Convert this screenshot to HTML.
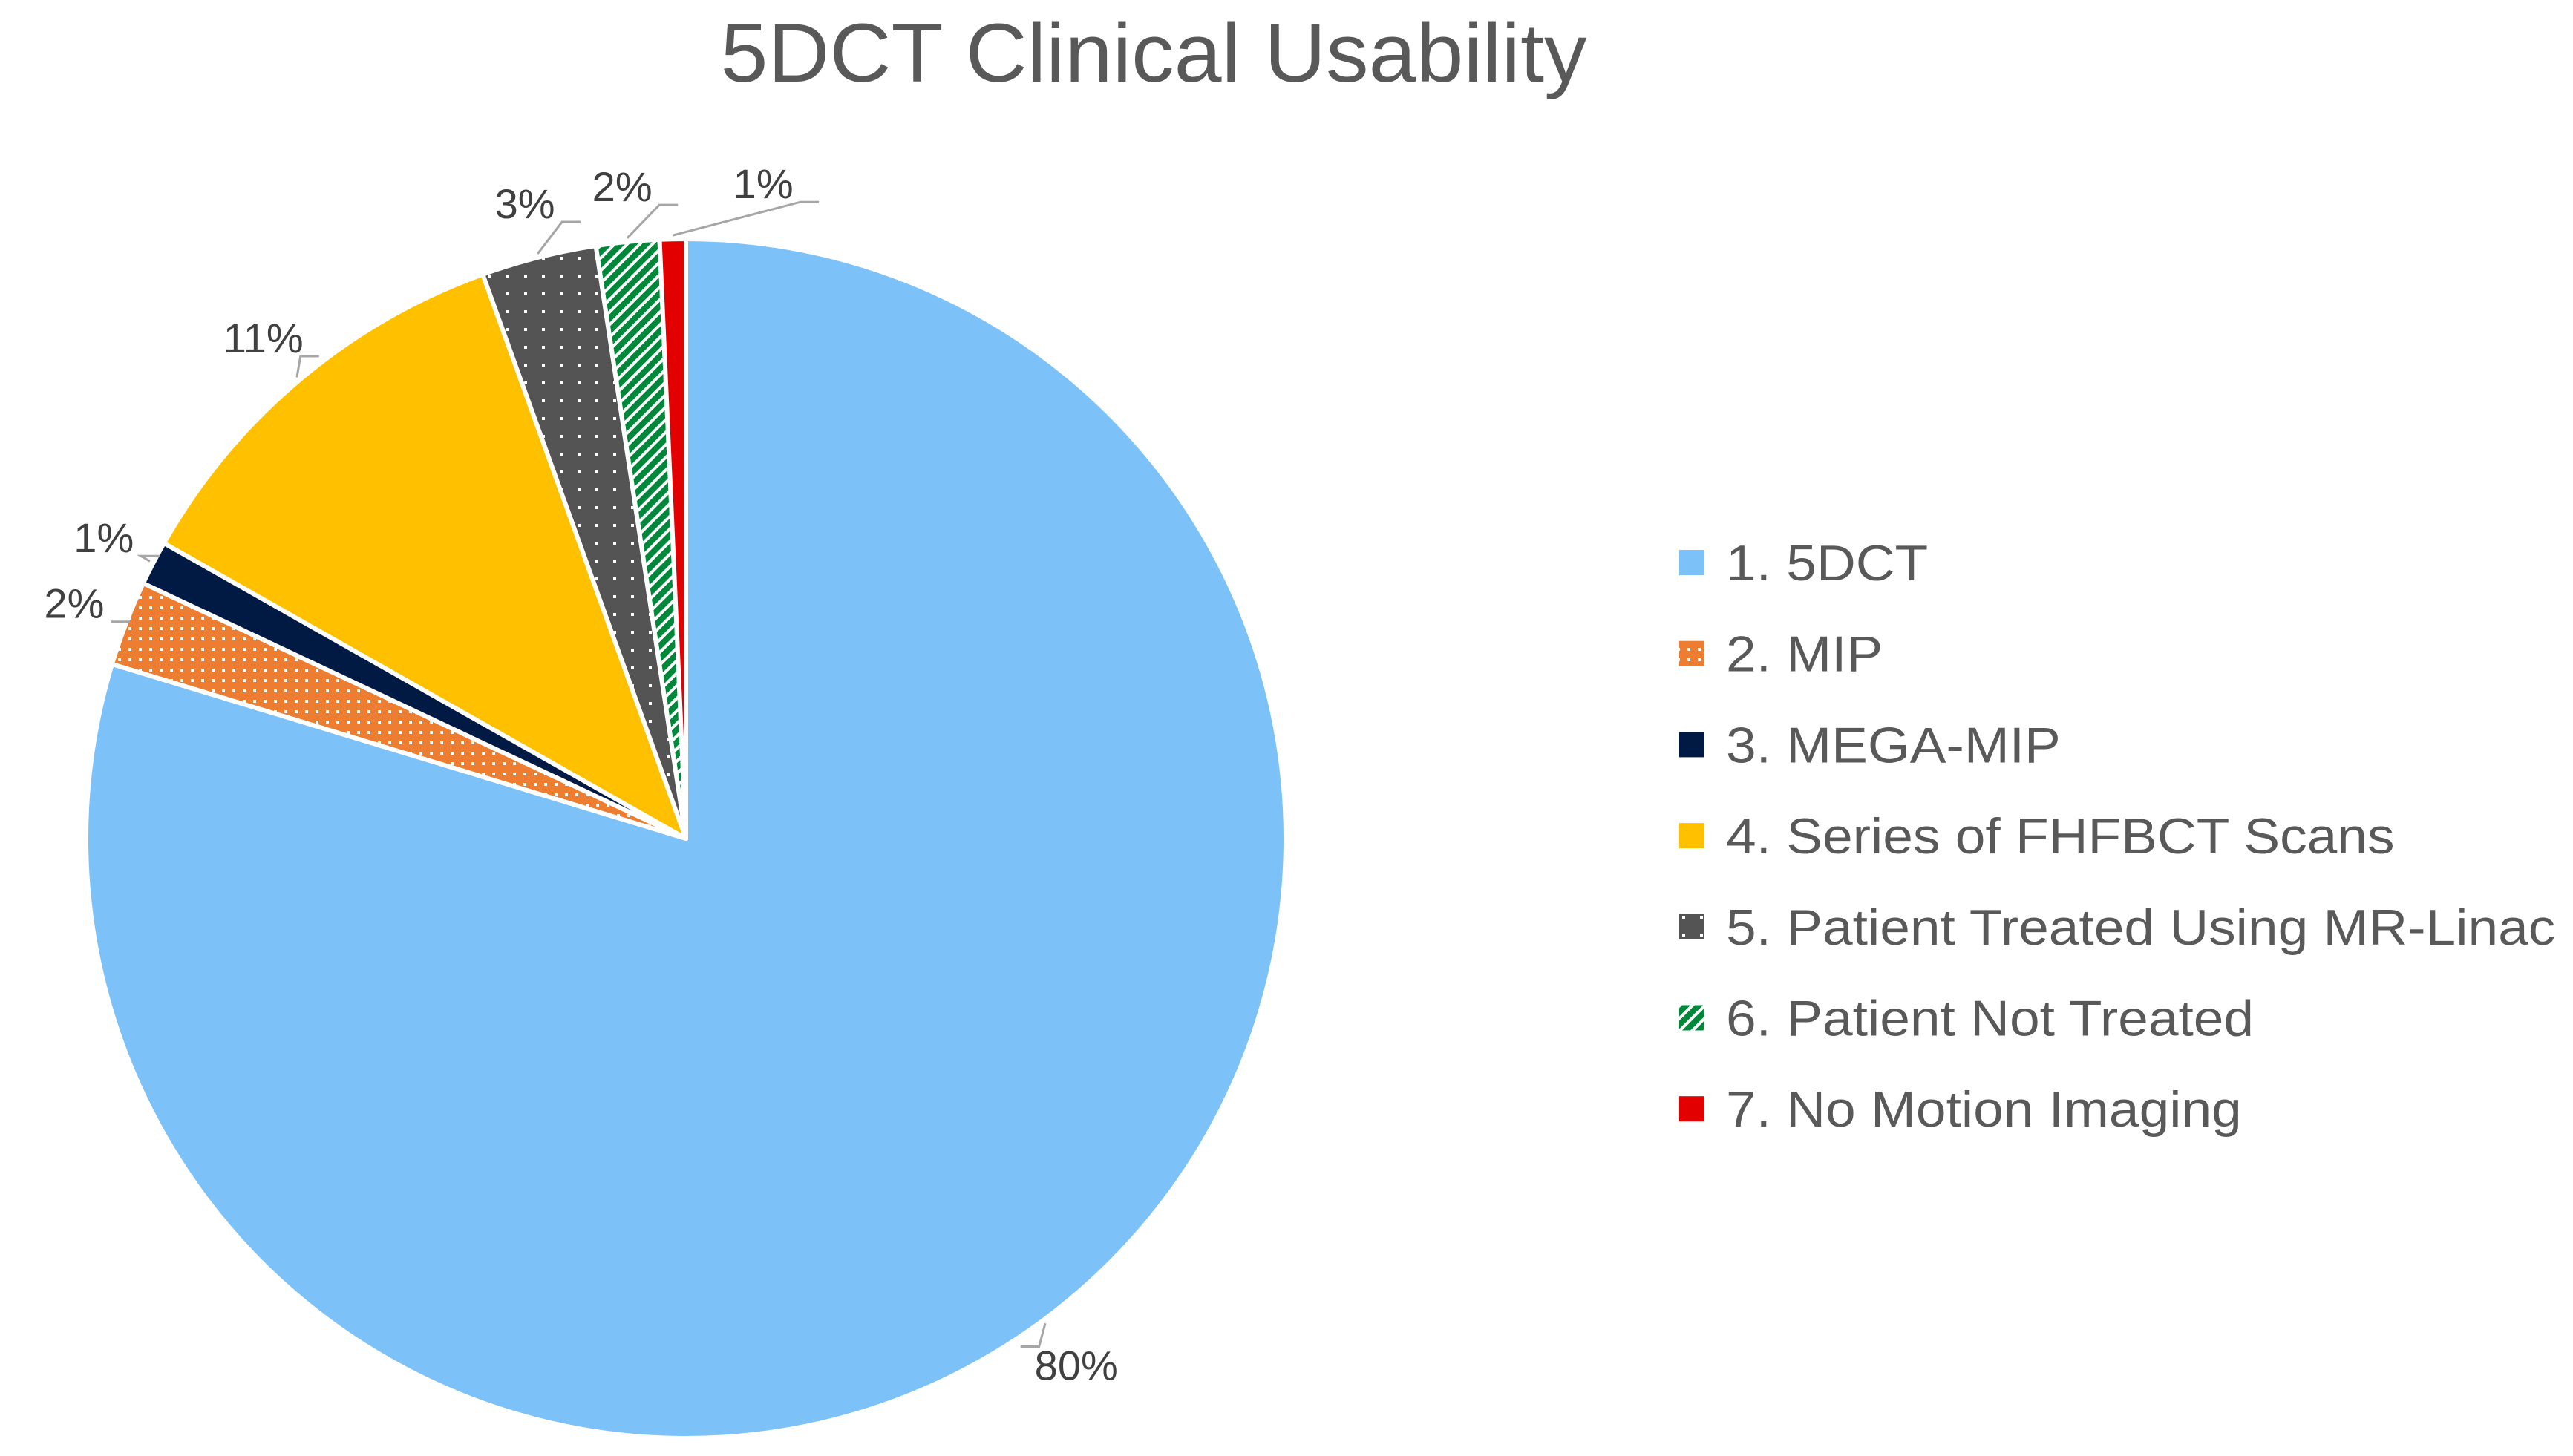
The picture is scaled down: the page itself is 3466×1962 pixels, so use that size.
<!DOCTYPE html>
<html><head><meta charset="utf-8"><style>
html,body{margin:0;padding:0;background:#fff;}
svg{display:block;font-family:"Liberation Sans",sans-serif;}
</style></head><body>
<svg id="chart" width="3466" height="1962" viewBox="0 0 3466 1962" xmlns="http://www.w3.org/2000/svg">
<defs>
<pattern id="pOrange" patternUnits="userSpaceOnUse" width="14" height="14"><rect width="14" height="14" fill="#ED7D31"/><rect x="5" y="5" width="4" height="4" fill="#fff"/></pattern>
<pattern id="pGray" patternUnits="userSpaceOnUse" width="24" height="24"><rect width="24" height="24" fill="#545454"/><rect x="10" y="10" width="4" height="4" fill="#fff"/></pattern>
<pattern id="pGreen" patternUnits="userSpaceOnUse" width="12" height="12" patternTransform="rotate(45)"><rect width="12" height="12" fill="#00883A"/><rect x="0" y="0" width="4" height="12" fill="#fff"/></pattern>
</defs>
<text x="1554" y="110" text-anchor="middle" font-size="112" fill="#595959" textLength="1167" lengthAdjust="spacingAndGlyphs">5DCT Clinical Usability</text>
<g id="slices"></g>
<g id="labels"></g>
<g id="legend"></g>
</svg>
<script>
const categories = ["1. 5DCT","2. MIP","3. MEGA-MIP","4. Series of FHFBCT Scans","5. Patient Treated Using MR-Linac","6. Patient Not Treated","7. No Motion Imaging"];
const values = [79.7, 2.3, 1.2, 11.3, 3.1, 1.7, 0.7];
const labelText = ["80%","2%","1%","11%","3%","2%","1%"];
const fills = ["#7DC1F9","url(#pOrange)","#001A44","#FFC000","url(#pGray)","url(#pGreen)","#E30000"];

const NS = "http://www.w3.org/2000/svg";
const cx = 924, cy = 1130, R = 808;
const total = values.reduce((a,b)=>a+b,0);
function angleOf(v){ return v/total*2*Math.PI; }
function pt(a, r){ return [cx + r*Math.sin(a), cy - r*Math.cos(a)]; }

const gS = document.getElementById('slices');
const gL = document.getElementById('labels');
const gLeg = document.getElementById('legend');
let acc = 0;
let prevLabelX = null;
values.forEach((v,i)=>{
  const a0 = angleOf(acc), a1 = angleOf(acc+v);
  acc += v;
  const p0 = pt(a0,R), p1 = pt(a1,R);
  const large = (a1-a0) > Math.PI ? 1 : 0;
  const path = document.createElementNS(NS,'path');
  path.setAttribute('d', `M${cx},${cy} L${p0[0]},${p0[1]} A${R},${R} 0 ${large} 1 ${p1[0]},${p1[1]} Z`);
  path.setAttribute('fill', fills[i]);
  path.setAttribute('stroke', '#fff');
  path.setAttribute('stroke-width', '6');
  path.setAttribute('stroke-linejoin', 'round');
  
  
  gS.appendChild(path);

  const am = (a0+a1)/2;
  let lp = pt(am, R+75);
  if (prevLabelX !== null && i === values.length-1 && lp[0]-prevLabelX < 170) lp = [prevLabelX+190, lp[1]];
  prevLabelX = lp[0];
  const e = pt(am, R+5);
  const side = Math.sin(am) >= 0 ? -1 : 1;
  const endX = lp[0] + side*50;
  const line = document.createElementNS(NS,'polyline');
  line.setAttribute('points', `${e[0]},${e[1]} ${endX},${lp[1]+ (Math.cos(am)>0?25:-25)} ${endX + side*25},${lp[1]+(Math.cos(am)>0?25:-25)}`);
  line.setAttribute('fill','none');
  line.setAttribute('stroke','#A6A6A6');
  line.setAttribute('stroke-width','3');
  
  
  gL.appendChild(line);
  const t = document.createElementNS(NS,'text');
  t.setAttribute('x', lp[0]);
  t.setAttribute('y', lp[1]+20);
  t.setAttribute('text-anchor','middle');
  t.setAttribute('font-size','56');
  t.setAttribute('fill','#404040');
  
  
  t.textContent = labelText[i];
  gL.appendChild(t);

  const ly = 758 + i*122.7;
  const sq = document.createElementNS(NS,'rect');
  sq.setAttribute('x', 2262);
  sq.setAttribute('y', ly-17);
  sq.setAttribute('width', 34);
  sq.setAttribute('height', 34);
  sq.setAttribute('fill', fills[i]);
  
  
  gLeg.appendChild(sq);
  const lt = document.createElementNS(NS,'text');
  lt.setAttribute('x', 2325);
  lt.setAttribute('y', ly+24);
  lt.setAttribute('font-size','68');
  lt.setAttribute('fill','#595959');
  
  
  lt.textContent = categories[i];
  gLeg.appendChild(lt);
  const w = lt.getComputedTextLength();
  lt.setAttribute('textLength', (w*1.075).toFixed(1));
  lt.setAttribute('lengthAdjust', 'spacingAndGlyphs');
});
</script>
</body></html>
